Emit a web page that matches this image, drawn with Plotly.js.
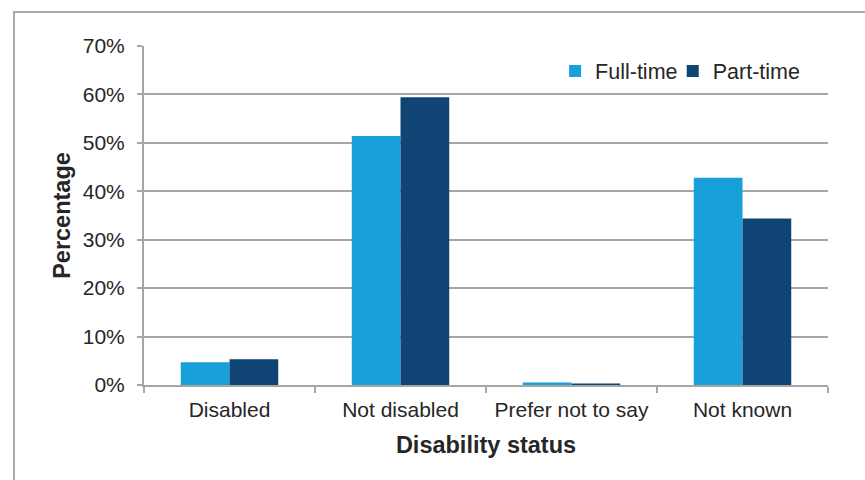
<!DOCTYPE html>
<html>
<head>
<meta charset="utf-8">
<script src="https://cdn.plot.ly/plotly-3.0.1.min.js"></script>
<style>
  html, body { margin: 0; padding: 0; background: #fff; }
  #wrap { position: relative; width: 865px; height: 480px; overflow: hidden; }
  #chart { width: 865px; height: 480px; }
  /* light grey frame along the top and left edges */
  #frame {
    position: absolute; left: 13px; top: 11px; right: -4px; bottom: -4px;
    border-left: 2px solid #ababab; border-top: 2px solid #ababab;
    pointer-events: none;
  }
</style>
</head>
<body>
<div id="wrap">
  <div id="chart"></div>
  <div id="frame"></div>
</div>
<script>
// Share of staff by disability status, full-time vs part-time (%)
const categories = ["Disabled", "Not disabled", "Prefer not to say", "Not known"];
const fullTime = [4.7, 51.4, 0.5, 42.8];
const partTime = [5.3, 59.4, 0.3, 34.4];
const yTicks = [0, 10, 20, 30, 40, 50, 60, 70];
const yTickLabels = yTicks.map(v => v + '%');

const FONT = '"Liberation Sans", Arial, sans-serif';
const GRID = '#a6a6a6';
const TEXT = '#262626';

const traces = [
  {
    type: 'bar', name: 'Full-time', x: categories, y: fullTime,
    marker: { color: '#199fd9' }, hoverinfo: 'skip', legend: 'legend'
  },
  {
    type: 'bar', name: 'Part-time', x: categories, y: partTime,
    marker: { color: '#104474' }, hoverinfo: 'skip', legend: 'legend2'
  }
];

// one legend box per series so the two entries sit side by side, tightly spaced
const legendBase = {
  orientation: 'h', xanchor: 'left', y: 0.926, yanchor: 'middle',
  bgcolor: 'rgba(0,0,0,0)', font: { family: FONT, size: 21.5, color: TEXT }
};

const layout = {
  width: 865, height: 480,
  margin: { l: 144, r: 37, t: 46, b: 95 },
  paper_bgcolor: '#ffffff', plot_bgcolor: '#ffffff',
  font: { family: FONT, size: 21, color: TEXT },
  barmode: 'group', bargap: 0.43, bargroupgap: 0,
  showlegend: true,
  legend: Object.assign({}, legendBase, { x: 0.601 }),
  legend2: Object.assign({}, legendBase, { x: 0.773 }),
  xaxis: {
    type: 'category',
    showline: true, linecolor: GRID, linewidth: 2,
    ticks: 'outside', tickson: 'boundaries', ticklen: 6, tickcolor: GRID, tickwidth: 2,
    ticklabelstandoff: 5,
    showgrid: false,
    tickfont: { family: FONT, size: 21, color: TEXT },
    title: { text: 'Disability status', font: { family: FONT, size: 23.5, color: TEXT, weight: 'bold' }, standoff: 16 }
  },
  yaxis: {
    range: [0, 70], tickmode: 'array', tickvals: yTicks, ticktext: yTickLabels,
    showline: true, linecolor: GRID, linewidth: 2,
    ticks: 'outside', ticklen: 5, tickcolor: GRID, tickwidth: 2,
    ticklabelstandoff: 8,
    showgrid: true, gridcolor: GRID, gridwidth: 2,
    zeroline: false,
    tickfont: { family: FONT, size: 21, color: TEXT },
    title: { text: 'Percentage', font: { family: FONT, size: 23.5, color: TEXT, weight: 'bold' }, standoff: 6 }
  }
};

Plotly.newPlot('chart', traces, layout, { staticPlot: true, displayModeBar: false });
</script>
</body>
</html>
